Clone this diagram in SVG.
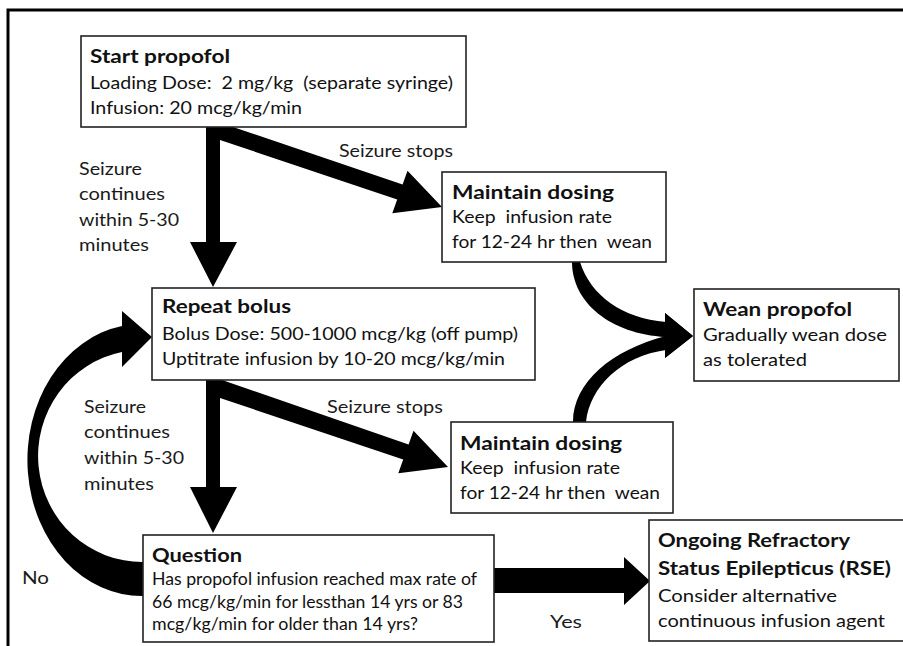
<svg xmlns="http://www.w3.org/2000/svg" width="903" height="646" viewBox="0 0 903 646">
<style>
text{white-space:pre}
.box{fill:#fff;stroke:#222;stroke-width:1.6}
.t{font-family:Lato,"Liberation Sans",sans-serif;font-size:17.5px;fill:#111}
.h{font-family:Lato,"Liberation Sans",sans-serif;font-size:19.5px;font-weight:bold;fill:#111}
.lbl{font-family:Lato,"Liberation Sans",sans-serif;font-size:17.5px;fill:#1a1a1a}
.arrow{fill:#000}
</style>
<rect x="0" y="0" width="903" height="646" fill="#fff"/>
<path d="M8,646 V10 H903" fill="none" stroke="#000" stroke-width="3"/>
<g id="connectors">
<path id="start-repeat" class="arrow" d="M206,127 H220 V242 H237 L213,287 L190,242 H206 Z"/>
<path id="start-maintain1" class="arrow" d="M220,127 L233,127 L402.6,184.5 L407.5,170.8 L442,207 L392.3,213.2 L397.2,199.5 L220,140 Z"/>
<path id="repeat-question" class="arrow" d="M206,380 H220 V487 H237 L213,533 L190,487 H206 Z"/>
<path id="repeat-maintain2" class="arrow" d="M219,380 L222,380 L408.6,444.5 L413.5,430.8 L448,467 L398.3,473.2 L403.2,459.5 L220,398 Z"/>
<path id="question-rse" class="arrow" d="M494,568 H624 V557 L650,581 L624,605 V593 H494 Z"/>
<path id="question-repeat" class="arrow" d="M143,596 A114,136 0 0 1 122,326 L122,311 L152,337 L122,367 L122,352 A104,106 0 0 0 143,562 Z"/>
<path id="maintain1-wean" class="arrow" d="M572,262 C572,302 610,334 666,337 L666,322 C622,318 591,296 580,262 Z M665,313 L693,336 L665,358 Z"/>
<path id="maintain2-wean" class="arrow" d="M573,422 C573,382 612,350 666,336 L666,350 C622,356 590,386 586,422 Z M665,313 L693,336 L665,358 Z"/>
<text class="lbl" x="339" y="157" textLength="114" lengthAdjust="spacingAndGlyphs">Seizure stops</text>
<text class="lbl" x="79" y="175" textLength="63" lengthAdjust="spacingAndGlyphs">Seizure</text>
<text class="lbl" x="79" y="200" textLength="86" lengthAdjust="spacingAndGlyphs">continues</text>
<text class="lbl" x="79" y="226" textLength="100" lengthAdjust="spacingAndGlyphs">within 5-30</text>
<text class="lbl" x="79" y="251" textLength="70" lengthAdjust="spacingAndGlyphs">minutes</text>
<text class="lbl" x="327" y="413" textLength="116" lengthAdjust="spacingAndGlyphs">Seizure stops</text>
<text class="lbl" x="84" y="413" textLength="62" lengthAdjust="spacingAndGlyphs">Seizure</text>
<text class="lbl" x="84" y="438" textLength="86" lengthAdjust="spacingAndGlyphs">continues</text>
<text class="lbl" x="84" y="464" textLength="100" lengthAdjust="spacingAndGlyphs">within 5-30</text>
<text class="lbl" x="84" y="490" textLength="70" lengthAdjust="spacingAndGlyphs">minutes</text>
<text class="lbl" x="22" y="584" textLength="27" lengthAdjust="spacingAndGlyphs">No</text>
<text class="lbl" x="550" y="628" textLength="32" lengthAdjust="spacingAndGlyphs">Yes</text>
</g>
<g id="start">
<rect class="box" x="81" y="36" width="385" height="91"/>
<text class="h" x="90" y="63" textLength="140" lengthAdjust="spacingAndGlyphs">Start propofol</text>
<text class="t" x="90" y="89" textLength="363" lengthAdjust="spacingAndGlyphs">Loading Dose:  2 mg/kg  (separate syringe)</text>
<text class="t" x="90" y="114" textLength="212" lengthAdjust="spacingAndGlyphs">Infusion: 20 mcg/kg/min</text>
</g>
<g id="maintain1">
<rect class="box" x="442" y="172" width="224" height="90"/>
<text class="h" x="452" y="199" textLength="162" lengthAdjust="spacingAndGlyphs">Maintain dosing</text>
<text class="t" x="452" y="223" textLength="160" lengthAdjust="spacingAndGlyphs">Keep  infusion rate</text>
<text class="t" x="452" y="248" textLength="200" lengthAdjust="spacingAndGlyphs">for 12-24 hr then  wean</text>
</g>
<g id="wean">
<rect class="box" x="694" y="289" width="205" height="92"/>
<text class="h" x="703" y="316" textLength="149" lengthAdjust="spacingAndGlyphs">Wean propofol</text>
<text class="t" x="703" y="341" textLength="184" lengthAdjust="spacingAndGlyphs">Gradually wean dose</text>
<text class="t" x="703" y="366" textLength="104" lengthAdjust="spacingAndGlyphs">as tolerated</text>
</g>
<g id="repeat">
<rect class="box" x="152" y="288" width="383" height="92"/>
<text class="h" x="162" y="313" textLength="129" lengthAdjust="spacingAndGlyphs">Repeat bolus</text>
<text class="t" x="162" y="340" textLength="356" lengthAdjust="spacingAndGlyphs">Bolus Dose: 500-1000 mcg/kg (off pump)</text>
<text class="t" x="162" y="365" textLength="343" lengthAdjust="spacingAndGlyphs">Uptitrate infusion by 10-20 mcg/kg/min</text>
</g>
<g id="maintain2">
<rect class="box" x="451" y="422" width="222" height="91"/>
<text class="h" x="460" y="450" textLength="162" lengthAdjust="spacingAndGlyphs">Maintain dosing</text>
<text class="t" x="460" y="474" textLength="160" lengthAdjust="spacingAndGlyphs">Keep  infusion rate</text>
<text class="t" x="460" y="499" textLength="200" lengthAdjust="spacingAndGlyphs">for 12-24 hr then  wean</text>
</g>
<g id="question">
<rect class="box" x="143" y="535" width="351" height="107"/>
<text class="h" x="152" y="562" textLength="90" lengthAdjust="spacingAndGlyphs">Question</text>
<text class="t" x="152" y="585" textLength="325" lengthAdjust="spacingAndGlyphs">Has propofol infusion reached max rate of</text>
<text class="t" x="152" y="608" textLength="311" lengthAdjust="spacingAndGlyphs">66 mcg/kg/min for lessthan 14 yrs or 83</text>
<text class="t" x="152" y="630" textLength="266" lengthAdjust="spacingAndGlyphs">mcg/kg/min for older than 14 yrs?</text>
</g>
<g id="rse">
<rect class="box" x="649" y="520" width="270" height="121"/>
<text class="h" x="658" y="547" textLength="192" lengthAdjust="spacingAndGlyphs">Ongoing Refractory</text>
<text class="h" x="658" y="575" textLength="233" lengthAdjust="spacingAndGlyphs">Status Epilepticus (RSE)</text>
<text class="t" x="658" y="602" textLength="179" lengthAdjust="spacingAndGlyphs">Consider alternative</text>
<text class="t" x="658" y="627" textLength="227" lengthAdjust="spacingAndGlyphs">continuous infusion agent</text>
</g>
</svg>
